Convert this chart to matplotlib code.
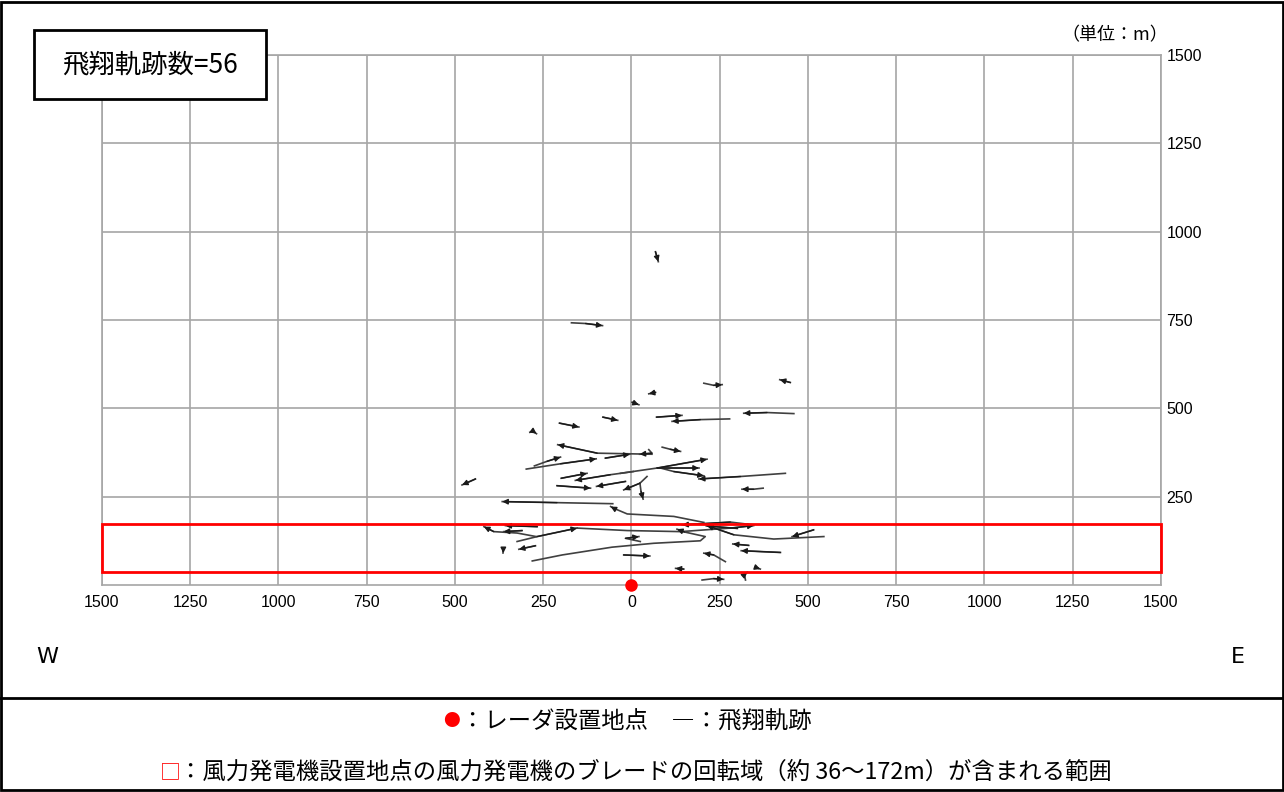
import matplotlib.pyplot as plt
from matplotlib.patches import Rectangle
from matplotlib.lines import Line2D

plt.rcParams['font.family'] = ['Noto Sans CJK JP', 'DejaVu Sans']

# axis ticks (m)
x_ticks = list(range(-1500, 1501, 250))
y_ticks = list(range(250, 1501, 250))

# blade rotation range (m)
rotor_low = 36
rotor_high = 172

# radar position
radar_x = [0]
radar_y = [0]

# flight tracks above the rotor range, (x, y) in m, arrow at last point
upper_tracks = [
    [(68, 943), (76, 915)],
    [(-170, 742), (-130, 740), (-82, 734)],
    [(205, 571), (233, 565), (257, 567)],
    [(450, 573), (420, 581)],
    [(68, 545), (49, 541)],
    [(2, 517), (21, 510)],
    [(71, 475), (143, 480)],
    [(278, 470), (195, 468), (115, 463)],
    [(460, 485), (384, 488), (318, 486)],
    [(-81, 475), (-39, 466)],
    [(-204, 458), (-149, 447)],
    [(-288, 432), (-277, 434), (-269, 428)],
    [(58, 370), (-97, 373), (-209, 397)],
    [(-74, 359), (-5, 370)],
    [(49, 383), (58, 373), (23, 370)],
    [(87, 390), (110, 384), (139, 378)],
    [(-275, 337), (-239, 350), (-201, 362)],
    [(-298, 328), (-201, 343), (-100, 357)],
    [(-199, 302), (-126, 316)],
    [(5, 321), (-60, 312), (-159, 296)],
    [(-31, 316), (73, 331), (214, 356)],
    [(73, 331), (191, 331)],
    [(82, 331), (120, 321), (205, 309)],
    [(436, 316), (309, 307), (191, 300)],
    [(-211, 281), (-116, 274)],
    [(-17, 293), (-99, 279)],
    [(-442, 300), (-480, 283)],
    [(44, 307), (24, 288), (-22, 269)],
    [(24, 288), (27, 265), (33, 243)],
    [(373, 274), (346, 271), (313, 271)],
    [(-53, 230), (-211, 233), (-366, 236)],
    [(205, 177), (120, 194), (-12, 201), (-50, 217), (-59, 222)],
]

# flight tracks at or below the rotor range
rotor_tracks = [
    [(-270, 137), (-324, 147), (-390, 151), (-418, 165)],
    [(-267, 165), (-357, 168)],
    [(-310, 154), (-362, 151)],
    [(-324, 123), (-267, 137), (-154, 161)],
    [(-154, 161), (-12, 154), (139, 151), (280, 161), (346, 168)],
    [(-281, 68), (-196, 85), (-55, 107), (63, 118), (195, 125), (209, 137), (150, 150), (129, 158)],
    [(25, 123), (-17, 132), (21, 137)],
    [(-22, 85), (52, 82)],
    [(545, 137), (403, 130), (290, 142), (214, 168)],
    [(516, 156), (455, 137)],
    [(332, 112), (287, 116)],
    [(422, 92), (311, 97)],
    [(266, 66), (233, 85), (205, 90)],
    [(-272, 111), (-319, 101)],
    [(-363, 101), (-363, 90)],
    [(148, 45), (125, 47)],
    [(351, 50), (365, 45)],
    [(323, 14), (320, 29), (328, 36)],
    [(200, 14), (233, 18), (261, 16)],
    [(346, 170), (280, 178), (144, 170)],
    [(300, 160), (212, 167)],
]

fig = plt.figure(figsize=(12.84, 7.92), dpi=100)
ax = fig.add_axes([0.0794, 0.2614, 0.8248, 0.6692])

ax.set_xlim(-1500, 1500)
ax.set_ylim(0, 1500)
ax.set_xticks(x_ticks)
ax.set_xticklabels([str(abs(v)) for v in x_ticks])
ax.set_yticks(y_ticks)
ax.yaxis.tick_right()
ax.tick_params(length=0, labelsize=11.5, labelfontfamily='Liberation Sans')
ax.tick_params(axis='x', pad=7)
ax.tick_params(axis='y', pad=4)
ax.grid(True, color='#a6a6a6', lw=1.2)
for s in ax.spines.values():
    s.set_color('#a6a6a6')
    s.set_linewidth(1.2)

# tracks
for tr in upper_tracks + rotor_tracks:
    xs = [p[0] for p in tr]
    ys = [p[1] for p in tr]
    ax.plot(xs, ys, color='#404040', lw=1.2, zorder=3)
    ax.annotate('', xy=tr[-1], xytext=tr[-2],
                arrowprops=dict(arrowstyle='-|>', color='#1a1a1a', lw=1.0,
                                mutation_scale=8, shrinkA=0, shrinkB=0),
                zorder=4)

# rotor range box
ax.add_patch(Rectangle((-1500, rotor_low), 3000, rotor_high - rotor_low,
                       fill=False, ec='#ff0000', lw=2, zorder=5, clip_on=False))
ax.plot(radar_x, radar_y, 'o', color='#ff0000', ms=8, zorder=6, clip_on=False)

# frame of the whole figure
fig.add_artist(Rectangle((0.001, 0.002), 0.998, 0.996, transform=fig.transFigure,
                         fill=False, ec='black', lw=2))
fig.add_artist(Line2D([0, 1], [0.1187, 0.1187], transform=fig.transFigure,
                      color='black', lw=2))

# count box
fig.add_artist(Rectangle((0.0265, 0.875), 0.1807, 0.0871, transform=fig.transFigure,
                         fill=True, fc='white', ec='black', lw=2, zorder=10))
fig.text(0.1168, 0.918, '飛翔軌跡数=56', ha='center', va='center', fontsize=19, zorder=11)

fig.text(0.9095, 0.9558, '（単位：m）', ha='right', va='center', fontsize=13)
fig.text(0.0366, 0.1705, 'W', ha='center', va='center', fontsize=16, family='DejaVu Sans')
fig.text(0.964, 0.1705, 'E', ha='center', va='center', fontsize=16, family='DejaVu Sans')

# legend lines
fig.text(0.3512, 0.0884, '●', ha='center', va='center', fontsize=12, color='#ff0000')
fig.text(0.3590, 0.0884, '：レーダ設置地点　―：飛翔軌跡', ha='left', va='center', fontsize=16.8)
fig.text(0.1324, 0.0253, '□', ha='center', va='center', fontsize=15, color='#ff0000')
fig.text(0.1395, 0.0253, '：風力発電機設置地点の風力発電機のブレードの回転域（約 36〜172m）が含まれる範囲',
         ha='left', va='center', fontsize=16.8)

fig.savefig('out.png', dpi=100)
